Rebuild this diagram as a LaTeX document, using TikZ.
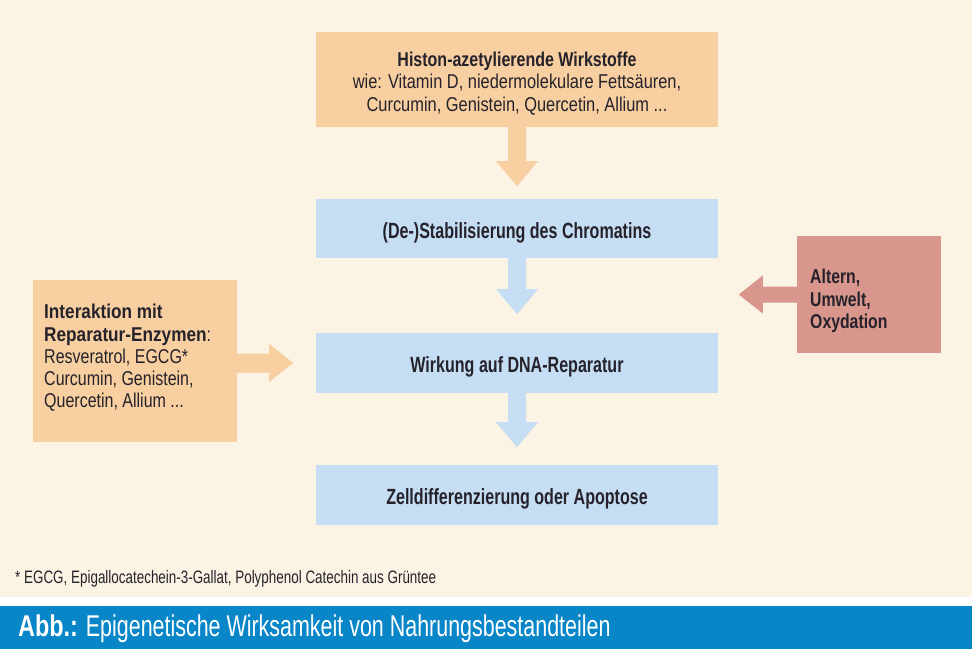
\documentclass[tikz,border=0pt]{standalone}
\usepackage{fontspec}
\setmainfont{Liberation Sans}
\newfontfamily\fReg{Liberation Sans}[FakeStretch=0.82]
\newfontfamily\fRegL{Liberation Sans}[FakeStretch=0.80]
\newfontfamily\fHead{Liberation Sans}[FakeStretch=0.80]
\newfontfamily\fBold{Liberation Sans}[FakeStretch=0.86]
\newfontfamily\fRed{Liberation Sans}[FakeStretch=0.79]
\newfontfamily\fBlue{Liberation Sans}[FakeStretch=0.73]
\newfontfamily\fFoot{Liberation Sans}[FakeStretch=0.746]
\newfontfamily\fTit{Liberation Sans}[FakeStretch=0.715]
\newfontfamily\fTitB{Liberation Sans}[FakeStretch=0.78]
\usetikzlibrary{calc}
\definecolor{bgcream}{HTML}{FBF3E4}
\definecolor{orangeC}{HTML}{F7CFA0}
\definecolor{blueC}{HTML}{C6DEF3}
\definecolor{redC}{HTML}{D9968C}
\definecolor{barC}{HTML}{0886C8}
\definecolor{textC}{HTML}{25222B}
\newcommand{\fatdown}[3]{%
  \fill[#3] ($(#1)+(-9,0)$) -- ($(#1)+(-9,#2-25)$) -- ($(#1)+(-21,#2-25)$) -- ($(#1)+(0,#2)$)
   -- ($(#1)+(21,#2-25)$) -- ($(#1)+(9,#2-25)$) -- ($(#1)+(9,0)$) -- cycle;}
\newcommand{\fatright}[3]{%
  \fill[#3] ($(#1)+(0,-9.5)$) -- ($(#1)+(#2-24,-9.5)$) -- ($(#1)+(#2-24,-19)$) -- ($(#1)+(#2,0)$)
   -- ($(#1)+(#2-24,19)$) -- ($(#1)+(#2-24,9.5)$) -- ($(#1)+(0,9.5)$) -- cycle;}
\newcommand{\fatleft}[3]{%
  \fill[#3] ($(#1)+(0,-8)$) -- ($(#1)+(-#2+24,-8)$) -- ($(#1)+(-#2+24,-19)$) -- ($(#1)+(-#2,0)$)
   -- ($(#1)+(-#2+24,19)$) -- ($(#1)+(-#2+24,8)$) -- ($(#1)+(0,8)$) -- cycle;}
\begin{document}
\begin{tikzpicture}[x=1pt,y=-1pt,
  boxshape/.style={draw=none,inner sep=0pt,minimum width=402pt,anchor=center},
  orangebox/.style={boxshape,fill=orangeC},
  bluebox/.style={boxshape,fill=blueC,minimum height=60pt},
  redbox/.style={boxshape,fill=redC},
  txt/.style={inner sep=0pt,text=textC,font={\fReg\fontsize{20}{22.8}\selectfont}},
  bluetxt/.style={inner sep=0pt,text=textC,font={\fBlue\bfseries\fontsize{22}{26}\selectfont}},
]
\useasboundingbox (0,0) rectangle (972,649);
\fill[white] (0,0) rectangle (972,649);
\fill[bgcream] (0,0) rectangle (972,597);
\fill[barC] (0,606) rectangle (972,649);

% boxes
\node[orangebox,minimum height=95pt] (top) at (517,79.5) {};
\node[bluebox,minimum height=59pt] (chrom) at (517,228.5) {};
\node[bluebox] (dna) at (517,363) {};
\node[bluebox] (zell) at (517,495) {};
\node[orangebox,minimum width=204pt,minimum height=162pt] (left) at (135,361) {};
\node[redbox,minimum width=144pt,minimum height=117pt] (red) at (869,294.5) {};

% texts
\node[txt,align=center] (topT) at ($(top.center)+(0,4)$)
  {{\fHead\bfseries Histon-azetylierende Wirkstoffe}\\
   wie: Vitamin D, niedermolekulare Fettsäuren,\\
   Curcumin, Genistein, Quercetin, Allium ...};
\node[bluetxt] (chromT) at ($(chrom.center)+(0,4)$) {(De-)Stabilisierung des Chromatins};
\node[bluetxt] (dnaT) at ($(dna.center)+(0,4)$) {Wirkung auf DNA-Reparatur};
\node[bluetxt] (zellT) at ($(zell.center)+(0,4)$) {Zelldifferenzierung oder Apoptose};
\node[txt,align=left,anchor=west,font={\fRegL\fontsize{20}{22.3}\selectfont}] (leftT) at (44,358)
  {{\fBold\bfseries Interaktion mit}\\
   {\fBold\bfseries Reparatur-Enzymen}:\\
   Resveratrol, EGCG*\\
   Curcumin, Genistein,\\
   Quercetin, Allium ...};
\node[txt,align=left,anchor=west,font={\fRed\bfseries\fontsize{20}{22.8}\selectfont}] (redT) at (810,301)
  {Altern,\\ Umwelt,\\ Oxydation};

% arrows
\fatdown{top.south}{59}{orangeC}
\fatdown{chrom.south}{56}{blueC}
\fatdown{dna.south}{54}{blueC}
\coordinate (la) at (left.east |- dna.west);
\fatright{la}{56}{orangeC}
\fatleft{red.west}{58}{redC}

% footnote and caption
\node[inner sep=0pt,anchor=base west,text=textC,font={\fFoot\fontsize{18}{21}\selectfont}] (foot) at (15,583)
  {* EGCG, Epigallocatechein-3-Gallat, Polyphenol Catechin aus Grüntee};
\node[inner sep=0pt,anchor=base west,text=white,font={\fTit\fontsize{30}{34}\selectfont}] (cap) at (18,636)
  {{\fTitB\bfseries Abb.:} Epigenetische Wirksamkeit von Nahrungsbestandteilen};
\end{tikzpicture}
\end{document}
